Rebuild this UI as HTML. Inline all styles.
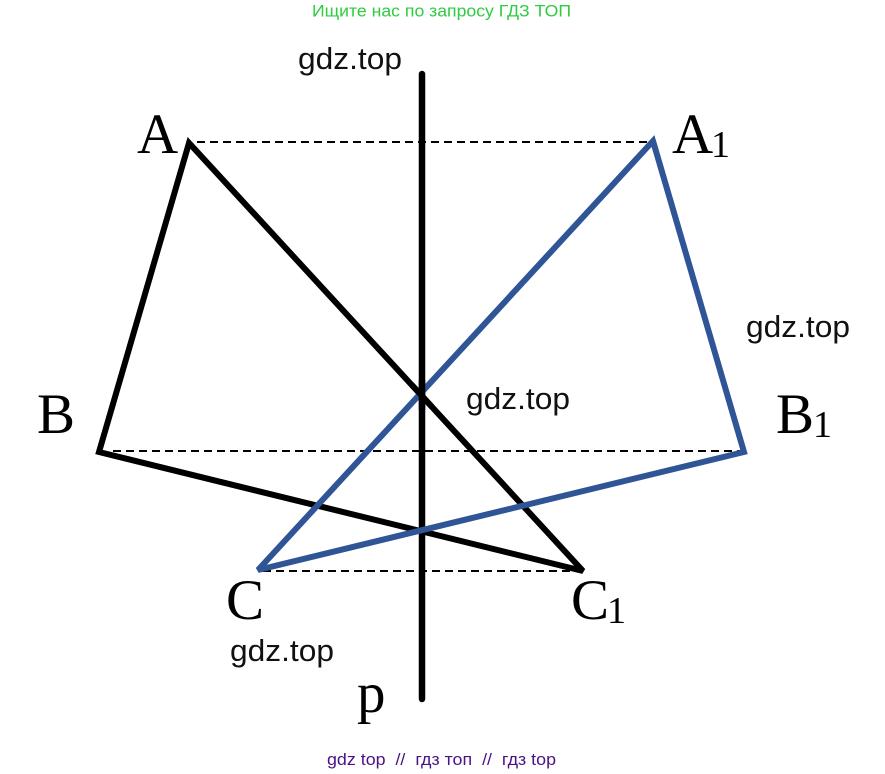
<!DOCTYPE html>
<html>
<head>
<meta charset="utf-8">
<style>
html,body{margin:0;padding:0;background:#fff;width:885px;height:774px;overflow:hidden}
svg{display:block}
.r{font-family:"Liberation Sans","Noto Sans CJK SC",sans-serif}
.t{font-family:"Liberation Serif","Noto Serif CJK SC",serif;fill:#000}
.g{font-size:31px;fill:#111}
</style>
</head>
<body>
<svg width="885" height="774" viewBox="0 0 885 774" xmlns="http://www.w3.org/2000/svg">
<rect width="885" height="774" fill="#fff"/>
<g stroke="#000" stroke-width="2" stroke-dasharray="8 5" fill="none">
<line x1="197" y1="142" x2="654" y2="142"/>
<line x1="113" y1="451" x2="744" y2="451"/>
<line x1="263" y1="571" x2="584" y2="571"/>
</g>
<polygon points="189,143 99,452 583,571" fill="none" stroke="#000" stroke-width="6" stroke-linejoin="miter" stroke-miterlimit="3"/>
<line x1="422" y1="74" x2="422" y2="699" stroke="#000" stroke-width="6.5" stroke-linecap="round"/>
<polygon points="653,141 744,452 258,570" fill="none" stroke="#2f5597" stroke-width="6" stroke-linejoin="miter" stroke-miterlimit="3"/>
<line x1="422" y1="380" x2="422" y2="410" stroke="#000" stroke-width="6.5"/>
<line x1="412" y1="385.140" x2="432" y2="406.860" stroke="#000" stroke-width="6"/>
<text class="r" x="312" y="16.500" font-size="17" fill="#2ecc40" textLength="259" lengthAdjust="spacingAndGlyphs">Ищите нас по запросу ГДЗ ТОП</text>
<text class="r" x="327" y="765" font-size="17" fill="#4b1285" textLength="229" xml:space="preserve" lengthAdjust="spacingAndGlyphs">gdz top  //  гдз топ  //  гдз top</text>
<text class="r g" x="298" y="69" textLength="104" lengthAdjust="spacingAndGlyphs">gdz.top</text>
<text class="r g" x="746" y="337" textLength="104" lengthAdjust="spacingAndGlyphs">gdz.top</text>
<text class="r g" x="466" y="409" textLength="104" lengthAdjust="spacingAndGlyphs">gdz.top</text>
<text class="r g" x="230" y="661" textLength="104" lengthAdjust="spacingAndGlyphs">gdz.top</text>
<g font-size="57">
<text class="t" x="137" y="153">A</text>
<text class="t" x="672" y="153">A</text>
<text class="t" x="37" y="433">B</text>
<text class="t" x="776" y="433">B</text>
<text class="t" x="226" y="619">C</text>
<text class="t" x="571" y="619">C</text>
<text class="t" x="357" y="712">p</text>
</g>
<g font-size="38">
<text class="t" x="711" y="157">1</text>
<text class="t" x="813" y="437">1</text>
<text class="t" x="607" y="623">1</text>
</g>
</svg>
</body>
</html>
